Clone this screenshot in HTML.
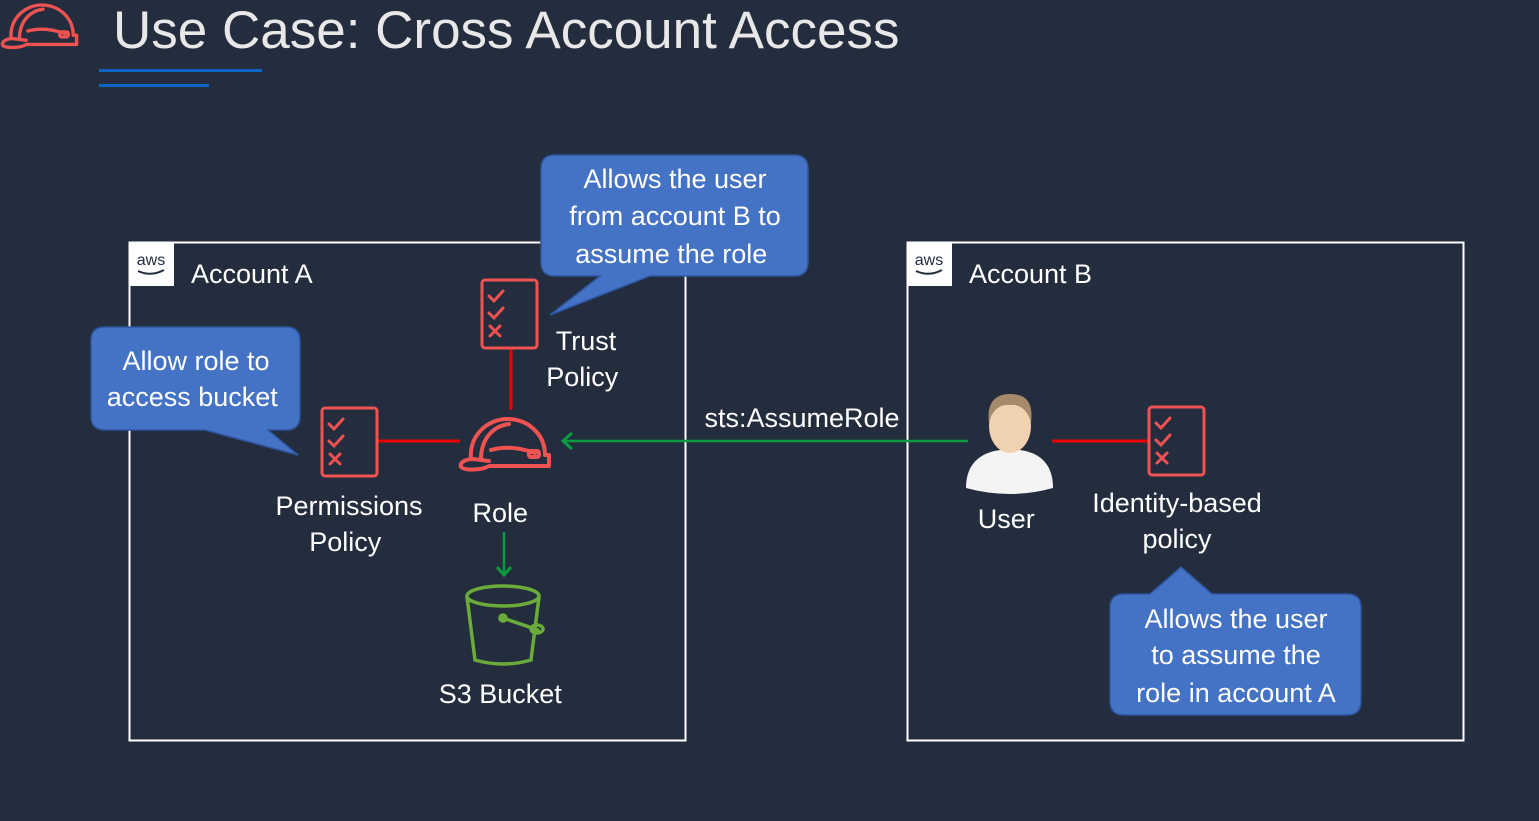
<!DOCTYPE html>
<html><head><meta charset="utf-8"><style>
html,body{margin:0;padding:0;background:#232d3e;}
svg{display:block}
text{font-family:"Liberation Sans",sans-serif;}
</style></head><body>
<svg width="1539" height="821" viewBox="0 0 1539 821" xmlns="http://www.w3.org/2000/svg">
<defs>
<g id="helm" fill="none" stroke="#f05252" stroke-width="4" stroke-linejoin="round" stroke-linecap="round">
<path d="M12,40 C10,15 30,0 48,0 C70,0 86,16 86,36 L90,36 L90,47 L30,47 C24,51 6,52 2,48 C0,43 8,40 14,40 L30,42"/>
<path d="M22,40 C22,20 34,7 50,5"/>
<path d="M32,31 C46,27 62,29 76,34"/>
<rect x="70" y="32" width="10" height="6" rx="2"/>
</g>
<g id="pol" fill="none" stroke="#f05252" stroke-width="3" stroke-linecap="round">
<rect x="0" y="0" width="55" height="68" rx="3"/>
<path d="M7,16 L12,21 L21,11 M7,33 L12,38 L21,28 M8,46 L18,56 M18,46 L8,56"/>
</g>
</defs>
<rect width="1539" height="821" fill="#232d3e"/>
<use href="#helm" transform="translate(1,5) scale(0.84,0.84)"/>
<text x="113" y="48" font-size="53" fill="#e8e8e8">Use Case: Cross Account Access</text>
<rect x="99" y="69" width="163" height="3" fill="#0a66c2"/>
<rect x="99" y="84" width="110" height="3" fill="#0a66c2"/>

<rect x="129.5" y="242.5" width="556" height="498" fill="none" stroke="#fff" stroke-width="2"/>
<rect x="907.5" y="242.5" width="556" height="498" fill="none" stroke="#fff" stroke-width="2"/>
<rect x="129" y="242" width="45" height="44" fill="#fff"/>
<rect x="907" y="242" width="45" height="44" fill="#fff"/>
<text x="151" y="265" font-size="16" fill="#232d3e" text-anchor="middle">aws</text>
<text x="929" y="265" font-size="16" fill="#232d3e" text-anchor="middle">aws</text>
<path d="M138,271 Q151,277 164,270 M916,271 Q929,277 942,270" stroke="#232d3e" stroke-width="2" fill="none"/>
<text x="191" y="283" font-size="27" fill="#fff">Account A</text>
<text x="969" y="283" font-size="27" fill="#fff">Account B</text>

<line x1="511" y1="348" x2="511" y2="410" stroke="#e00" stroke-width="3"/>
<line x1="377" y1="441" x2="460" y2="441" stroke="#e00" stroke-width="3"/>
<line x1="1052" y1="441" x2="1149" y2="441" stroke="#e00" stroke-width="3"/>
<line x1="564" y1="441" x2="968" y2="441" stroke="#0a9a40" stroke-width="2.5"/>
<path d="M572,433 L563,441 L572,449" stroke="#0a9a40" stroke-width="3" fill="none"/>
<line x1="504" y1="532" x2="504" y2="574" stroke="#0a9a40" stroke-width="2.5"/>
<path d="M497,567 L504,575 L511,567" stroke="#0a9a40" stroke-width="3" fill="none"/>
<text x="802" y="427" font-size="27" fill="#fff" text-anchor="middle">sts:AssumeRole</text>

<use href="#pol" x="482" y="280"/>
<use href="#pol" x="322" y="408"/>
<use href="#pol" x="1149" y="407"/>
<use href="#helm" x="459" y="419"/>

<g fill="none" stroke="#6aab3a" stroke-width="3.5" stroke-linecap="round">
<ellipse cx="503" cy="596" rx="36" ry="10"/>
<path d="M467,597 L475,660 Q503,668 531,660 L539,597"/>
<path d="M503,618 L538,630"/>
<circle cx="503" cy="618" r="3"/>
<ellipse cx="537" cy="629" rx="6" ry="4"/>
</g>

<g>
<path d="M966,488 C966,460 985,452 1000,450 L1020,450 C1035,452 1053,460 1053,488 Q1010,500 966,488 Z" fill="#f4f4f4"/>
<ellipse cx="1010" cy="426" rx="21" ry="27" fill="#f1d2b0"/>
<path d="M989,423 C986,400 998,394 1010,394 C1024,394 1034,400 1031,423 C1028,410 1020,404 1010,405 C1000,404 992,410 989,423 Z" fill="#a58a6c"/>
</g>

<text font-size="27" fill="#fff" text-anchor="middle">
<tspan x="586" y="350">Trust</tspan><tspan x="586" y="386">Policy</tspan>
<tspan x="349" y="515">Permissions</tspan><tspan x="349" y="551">Policy</tspan>
<tspan x="504" y="522">Role</tspan>
<tspan x="504" y="703">S3 Bucket</tspan>
<tspan x="1010" y="528">User</tspan>
<tspan x="1177" y="512">Identity-based</tspan><tspan x="1177" y="548">policy</tspan>
</text>

<g fill="#4472c4" stroke="#2f56a0" stroke-width="1.5">
<path d="M555,155 H794 Q808,155 808,169 V262 Q808,276 794,276 H650 L550,315 L600,276 H555 Q541,276 541,262 V169 Q541,155 555,155 Z"/>
<path d="M105,327 H286 Q300,327 300,341 V416 Q300,430 286,430 H268 L298,455 L205,430 H105 Q91,430 91,416 V341 Q91,327 105,327 Z"/>
<path d="M1124,594 H1150 L1181,567 L1212,594 H1347 Q1361,594 1361,608 V701 Q1361,715 1347,715 H1124 Q1110,715 1110,701 V608 Q1110,594 1124,594 Z"/>
</g>
<text font-size="27" fill="#fff" text-anchor="middle">
<tspan x="675" y="188">Allows the user</tspan><tspan x="675" y="225">from account B to</tspan><tspan x="675" y="263">assume the role</tspan>
<tspan x="196" y="370">Allow role to</tspan><tspan x="196" y="406">access bucket</tspan>
<tspan x="1236" y="628">Allows the user</tspan><tspan x="1236" y="664">to assume the</tspan><tspan x="1236" y="702">role in account A</tspan>
</text>
</svg>
</body></html>
